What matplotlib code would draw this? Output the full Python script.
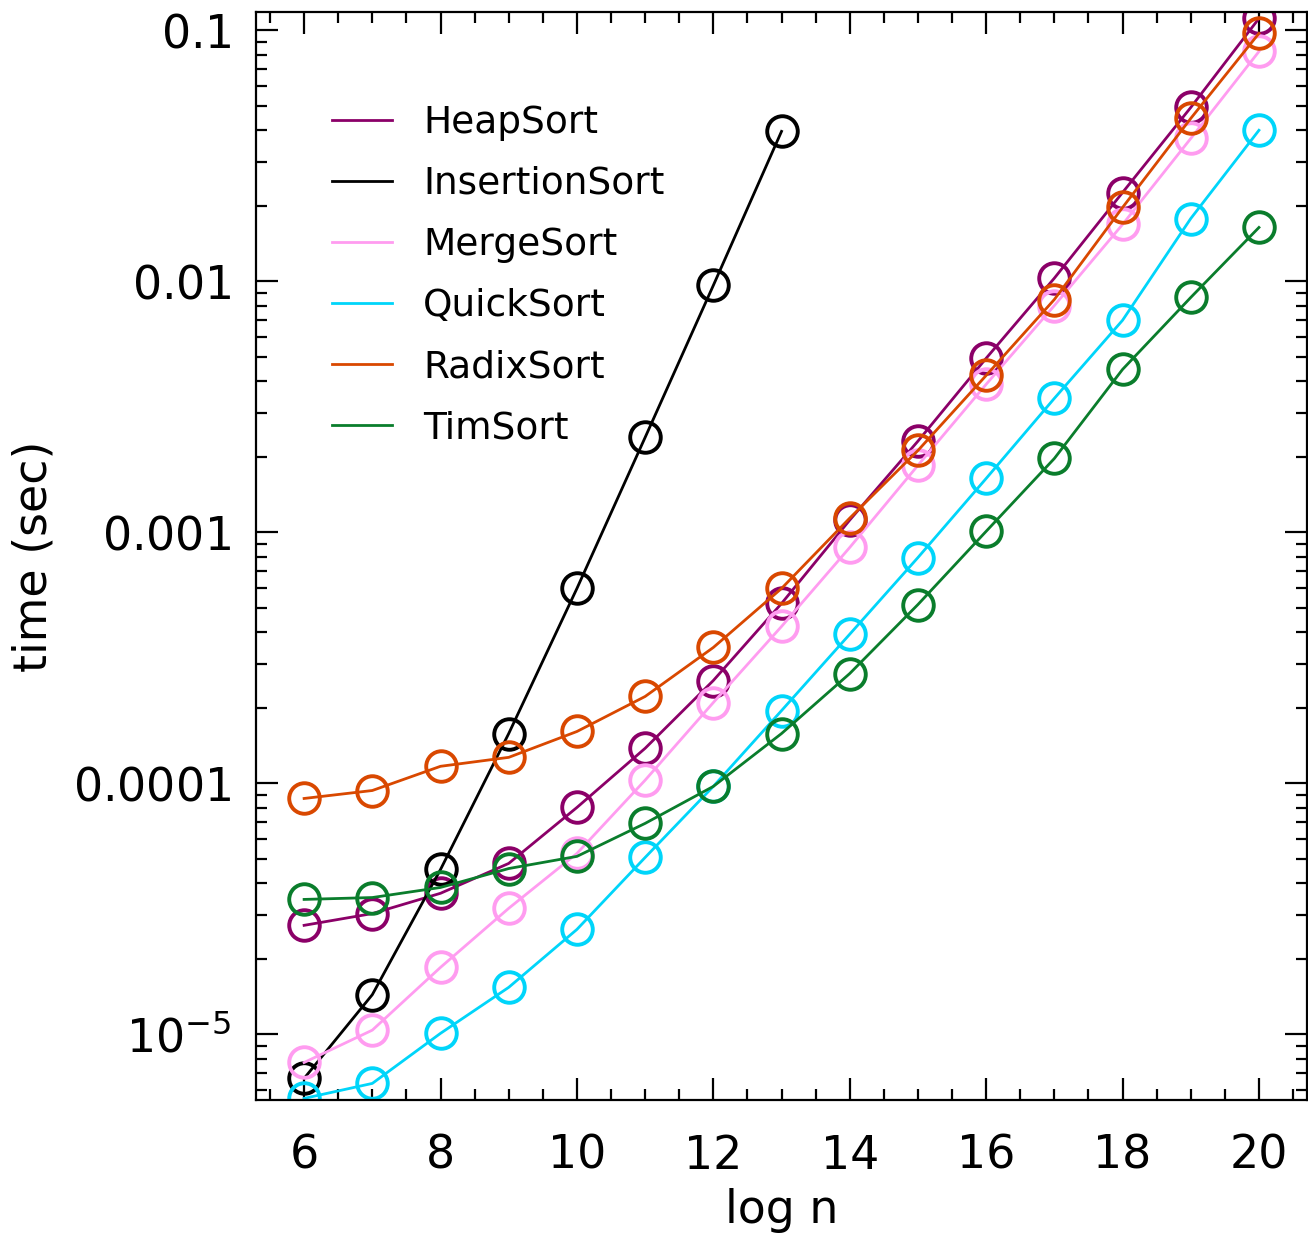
import matplotlib
matplotlib.use("Agg")
import matplotlib.pyplot as plt
import numpy as np
from matplotlib.ticker import MultipleLocator, LogLocator

plt.rcParams['axes.formatter.min_exponent'] = 5

# timings (seconds) vs log2 of input size
logn = np.arange(6, 21)
logn_ins = np.arange(6, 14)

heap = [2.72e-5, 3.03e-5, 3.65e-5, 4.80e-5, 8.02e-5, 1.38e-4, 2.57e-4, 5.21e-4,
        1.12e-3, 2.31e-3, 4.94e-3, 1.03e-2, 2.26e-2, 4.93e-2, 0.1116]
insertion = [6.68e-6, 1.44e-5, 4.54e-5, 1.58e-4, 5.98e-4, 2.39e-3, 9.64e-3, 0.0396]
merge = [7.73e-6, 1.04e-5, 1.85e-5, 3.18e-5, 5.26e-5, 1.03e-4, 2.10e-4, 4.22e-4,
         8.71e-4, 1.85e-3, 3.89e-3, 8.01e-3, 1.686e-2, 3.71e-2, 0.0824]
quick = [5.56e-6, 6.38e-6, 1.01e-5, 1.54e-5, 2.62e-5, 5.07e-5, 9.73e-5, 1.95e-4,
         3.93e-4, 7.94e-4, 1.64e-3, 3.42e-3, 7.0e-3, 1.78e-2, 0.0400]
radix = [8.71e-5, 9.37e-5, 1.17e-4, 1.27e-4, 1.61e-4, 2.22e-4, 3.48e-4, 5.98e-4,
         1.14e-3, 2.12e-3, 4.22e-3, 8.47e-3, 1.97e-2, 4.46e-2, 0.0973]
tim = [3.45e-5, 3.51e-5, 3.85e-5, 4.58e-5, 5.12e-5, 6.93e-5, 9.73e-5, 1.58e-4,
       2.74e-4, 5.16e-4, 1.01e-3, 1.97e-3, 4.46e-3, 8.63e-3, 0.0164]

series = [
    ("HeapSort", logn, heap, "#8b0068"),
    ("InsertionSort", logn_ins, insertion, "black"),
    ("MergeSort", logn, merge, "#ff9cf0"),
    ("QuickSort", logn, quick, "#00d5fa"),
    ("RadixSort", logn, radix, "#d94800"),
    ("TimSort", logn, tim, "#0a7d2c"),
]

fig = plt.figure(figsize=(13.08, 12.35), dpi=100)
ax = fig.add_axes([0.196, 0.109, 0.803, 0.881])

for name, x, y, c in series:
    ax.plot(x, y, color=c, lw=2.0, label=name)
    ax.plot(x, y, 'o', mfc='none', mec=c, ms=22, mew=2.8)

ax.set_yscale('log')
ax.set_xlim(5.3, 20.7)
ax.set_ylim(5.46e-6, 0.118)

ax.xaxis.set_major_locator(MultipleLocator(2))
ax.xaxis.set_minor_locator(MultipleLocator(0.5))
ax.yaxis.set_minor_locator(LogLocator(base=10, subs=np.arange(2, 10)))

ax.tick_params(which='both', direction='in', top=True, right=True, width=1.6)
ax.tick_params(which='major', length=16, labelsize=33, pad=18)
ax.tick_params(axis='x', which='major', pad=24)
ax.tick_params(which='minor', length=8)
for s in ax.spines.values():
    s.set_linewidth(1.6)

ax.set_xlabel("log n", fontsize=33, labelpad=7)
ax.set_ylabel("time (sec)", fontsize=33, labelpad=12)

leg = ax.legend(loc='upper left', bbox_to_anchor=(0.04, 0.946), frameon=False,
                fontsize=27, handlelength=1.6, handletextpad=0.83, labelspacing=0.67)

fig.savefig("out.png", dpi=100)
